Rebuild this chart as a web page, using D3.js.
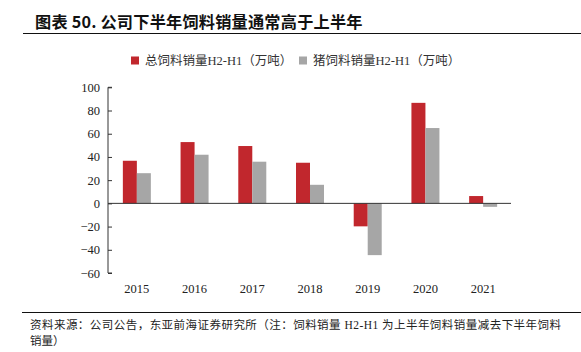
<!DOCTYPE html>
<html lang="zh">
<head>
    <meta charset="UTF-8">
    <script src="https://d3js.org/d3.v7.min.js"></script>
    <style>
        body { margin: 0; background: #fff; }
        svg { display: block; }
        .tick text { font-family: "Liberation Serif", "Noto Sans CJK SC", serif; font-size: 12.5px; fill: #222; }
        .legend text { font-family: "Liberation Serif", "Noto Sans CJK SC", serif; font-size: 12.5px; fill: #333; }
        .note { font-family: "Liberation Serif", "Noto Sans CJK SC", serif; font-size: 11.5px; fill: #222; }
    </style>
</head>
<body>
<svg id="chart"></svg>
<script>
    const years = ["2015", "2016", "2017", "2018", "2019", "2020", "2021"];
    const totalFeed = [36.7, 52.8, 49.4, 35, -19.8, 86.6, 6.3];
    const pigFeed = [26, 41.9, 35.9, 16, -44.6, 64.9, -3];
    const seriesNames = ["总饲料销量H2-H1（万吨）", "猪饲料销量H2-H1（万吨）"];
    const colors = ["#c1272d", "#a6a6a6"];
    const yTicks = [-60, -40, -20, 0, 20, 40, 60, 80, 100];

    const width = 581, height = 352;
    const svg = d3.select("#chart").attr("width", width).attr("height", height);

    // title
    svg.append("text")
        .attr("x", 35).attr("y", 28)
        .style("font-family", "'Noto Sans CJK SC', sans-serif")
        .style("font-size", "16.2px").style("font-weight", "bold")
        .style("letter-spacing", "0.2px")
        .attr("fill", "#111")
        .text("图表 50. 公司下半年饲料销量通常高于上半年");
    svg.append("line").attr("x1", 23).attr("x2", 581).attr("y1", 33.5).attr("y2", 33.5)
        .attr("stroke", "#111").attr("stroke-width", 1.2);

    const x = d3.scaleBand().domain(years).range([108, 512]);
    const y = d3.scaleLinear().domain([-60, 100]).range([273, 87.3]);
    const sub = d3.scaleBand().domain([0, 1]).range([0, 28]);

    const data = years.map((yr, i) => ({ yr, vals: [totalFeed[i], pigFeed[i]] }));

    const g = svg.append("g");
    g.selectAll("g.yr").data(data).enter().append("g")
        .attr("transform", d => `translate(${x(d.yr) + x.bandwidth() / 2 - 14},0)`)
        .selectAll("rect").data(d => d.vals).enter().append("rect")
        .attr("x", (v, j) => sub(j))
        .attr("width", sub.bandwidth())
        .attr("y", v => y(Math.max(0, v)))
        .attr("height", v => Math.abs(y(v) - y(0)))
        .attr("fill", (v, j) => colors[j]);

    // y axis
    const yAxis = svg.append("g").attr("transform", "translate(108,0)")
        .call(d3.axisRight(y).tickValues(yTicks).tickSize(4).tickFormat(d3.format("d")));
    yAxis.select(".domain").attr("stroke", "#333").attr("d", `M4,${y(100)}H0V${y(-60)}H4`);
    yAxis.selectAll(".tick line").attr("stroke", "#333");
    yAxis.selectAll(".tick text").attr("x", -8).attr("text-anchor", "end");

    // zero line
    svg.append("line").attr("x1", 108).attr("x2", 511).attr("y1", y(0)).attr("y2", y(0))
        .attr("stroke", "#333").attr("stroke-width", 1);

    // x labels
    const xAxis = svg.append("g").attr("transform", "translate(0,278)")
        .call(d3.axisBottom(x).tickSize(0).tickPadding(6));
    xAxis.select(".domain").remove();

    // legend
    const legend = svg.append("g").attr("class", "legend");
    const lx = [131, 299];
    seriesNames.forEach((name, i) => {
        legend.append("rect").attr("x", lx[i]).attr("y", 56.5).attr("width", 8).attr("height", 8).attr("fill", colors[i]);
        legend.append("text").attr("x", lx[i] + 14).attr("y", 65).text(name);
    });

    // source
    svg.append("line").attr("x1", 22).attr("x2", 581).attr("y1", 312.5).attr("y2", 312.5)
        .attr("stroke", "#111").attr("stroke-width", 1.2);
    svg.append("text").attr("class", "note").attr("x", 30).attr("y", 329)
        .attr("textLength", 531).attr("lengthAdjust", "spacing")
        .text("资料来源：公司公告，东亚前海证券研究所（注：饲料销量 H2-H1 为上半年饲料销量减去下半年饲料");
    svg.append("text").attr("class", "note").attr("x", 30).attr("y", 345)
        .text("销量）");
</script>
</body>
</html>
